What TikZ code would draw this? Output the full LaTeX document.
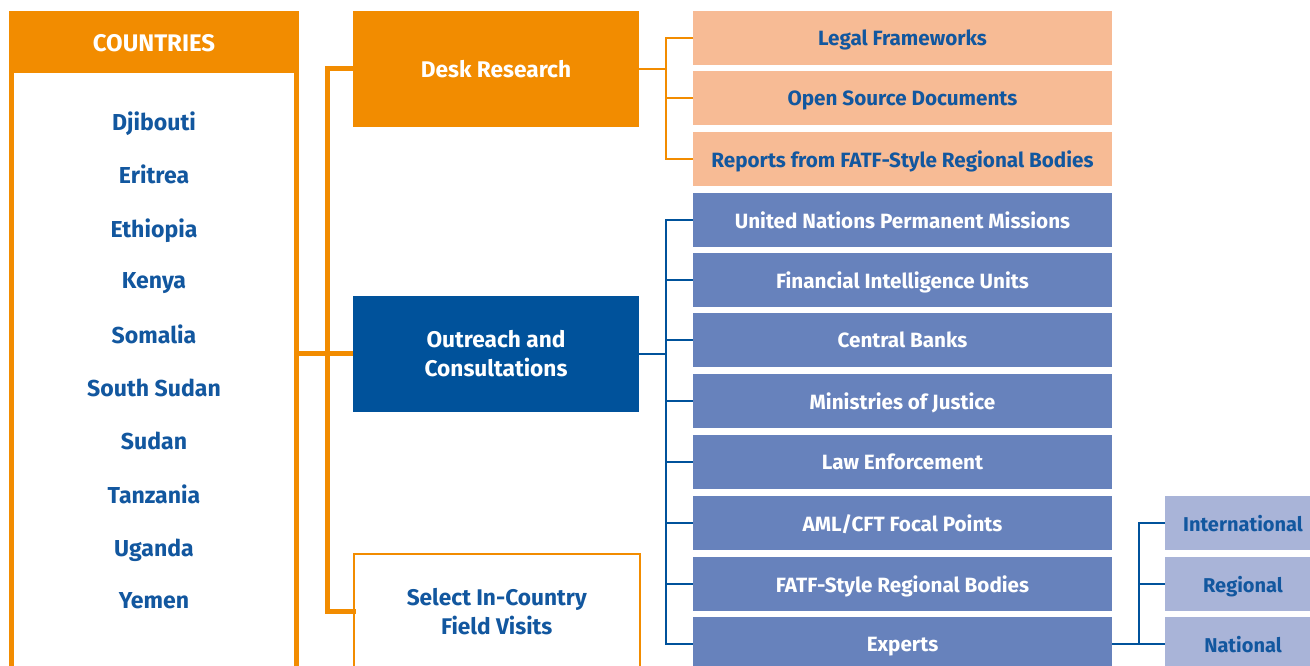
\documentclass[tikz,border=0pt]{standalone}
\usepackage{fontspec}
\setmainfont{Fira Sans}
\definecolor{orng}{HTML}{F28C00}
\definecolor{navy}{HTML}{00529B}
\definecolor{midblue}{HTML}{6782BC}
\definecolor{paleblue}{HTML}{A9B4D8}
\definecolor{peach}{HTML}{F7BB95}
\definecolor{txtblue}{HTML}{12579F}
\begin{document}
\begin{tikzpicture}[x=0.75pt,y=-0.75pt,
  every node/.style={inner sep=0pt, outer sep=0pt, align=center},
  mainbox/.style={anchor=north west, minimum width=214.5pt, minimum height=87pt, font=\bfseries\fontsize{17}{21.75}\selectfont},
  subbox/.style={anchor=north west, minimum width=314.25pt, minimum height=40.5pt, text depth=0pt, font=\bfseries\fontsize{15.5}{17}\selectfont},
  peachbox/.style={subbox, fill=peach, text=txtblue},
  bluebox/.style={subbox, fill=midblue, text=white},
  levelbox/.style={anchor=north west, minimum width=117pt, minimum height=40.5pt, text depth=0pt, fill=paleblue, text=txtblue, font=\bfseries\fontsize{15}{17}\selectfont},
  country/.style={text=txtblue, text depth=0pt, font=\bfseries\fontsize{17.3}{19}\selectfont},
  thick link/.style={draw=orng, line width=3.75pt},
  thin orange/.style={draw=orng, line width=1.5pt},
  thin blue/.style={draw=navy, line width=1.5pt}]
\useasboundingbox (0,0) rectangle (1310,666);
\clip (0,0) rectangle (1310,666);

% countries column
\node[anchor=north west, draw=orng, line width=3.75pt, fill=white,
      minimum width=213.75pt, minimum height=520pt] (countries) at (11.5,13.5) {};
\node[anchor=north west, fill=orng, text=white, minimum width=217.5pt, minimum height=45.75pt,
      font=\bfseries\fontsize{18}{20}\selectfont] (head) at (9,12.5) {COUNTRIES};
\foreach \name/\yy [count=\i] in {Djibouti/121, Eritrea/174, Ethiopia/228, Kenya/281,
    Somalia/334, South Sudan/388, Sudan/441, Tanzania/494, Uganda/548, Yemen/601}
  \node[country] (c\i) at (154,\yy) {\name};

% second level
\node[mainbox, fill=orng, text=white] (desk) at (353,11) {Desk Research};
\node[mainbox, fill=navy, text=white] (outreach) at (353,296) {Outreach and\\Consultations};
\node[mainbox, draw=orng, line width=1.5pt, fill=white, text=txtblue] (field) at (353.75,553.75)
  {Select In-Country\\Field Visits};

% desk research sources
\node[peachbox] (legal) at (693,11) {Legal Frameworks};
\node[peachbox] (open) at (693,71.5) {Open Source Documents};
\node[peachbox] (fsrb) at (693,132) {Reports from FATF-Style Regional Bodies};

% consultation partners
\node[bluebox] (un)  at (693,193) {United Nations Permanent Missions};
\node[bluebox] (fiu) at (693,253) {Financial Intelligence Units};
\node[bluebox] (cb)  at (693,313) {Central Banks};
\node[bluebox] (moj) at (693,374) {Ministries of Justice};
\node[bluebox] (law) at (693,435) {Law Enforcement};
\node[bluebox] (aml) at (693,496) {AML/CFT Focal Points};
\node[bluebox] (fsb) at (693,557) {FATF-Style Regional Bodies};
\node[bluebox] (exp) at (693,617) {Experts};

% expert levels
\node[levelbox] (intl) at (1165,496) {International};
\node[levelbox] (reg)  at (1165,557) {Regional};
\node[levelbox] (nat)  at (1165,617) {National};

% connectors
\coordinate (spine) at (327.5,0);
\coordinate (deskbus) at (666,0);
\coordinate (expbus) at (1139,0);

\draw[thick link] (countries.east |- outreach.west) -- (outreach.west);
\draw[thick link, line cap=rect] (desk.west) -- (desk.west -| spine) -- (field.west -| spine) -- (field.west);

\draw[thin orange] (desk.east) -- (desk.east -| deskbus);
\draw[thin orange] (legal.west) -- (legal.west -| deskbus) -- (fsrb.west -| deskbus) -- (fsrb.west);
\draw[thin orange] (open.west -| deskbus) -- (open.west);

\draw[thin blue] (outreach.east) -- (outreach.east -| deskbus);
\draw[thin blue] (un.west) -- (un.west -| deskbus) -- (exp.west -| deskbus) -- (exp.west);
\foreach \n in {fiu,cb,moj,law,aml,fsb}
  \draw[thin blue] (\n.west -| deskbus) -- (\n.west);

\draw[thin blue] (exp.east) -- (nat.west);
\draw[thin blue] (intl.west) -- (intl.west -| expbus) -- (nat.west -| expbus);
\draw[thin blue] (reg.west -| expbus) -- (reg.west);
\end{tikzpicture}
\end{document}
